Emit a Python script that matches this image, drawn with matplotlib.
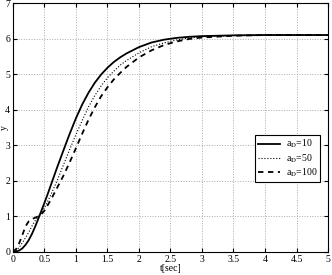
import matplotlib
matplotlib.use("Agg")
import matplotlib.pyplot as plt

plt.rcParams['font.family'] = ['Liberation Serif', 'DejaVu Serif']
plt.rcParams['mathtext.fontset'] = 'stix'

# a_D = 10 (solid)
t_10 = [0, 0.05, 0.1, 0.15, 0.2, 0.25, 0.3, 0.35, 0.4, 0.45, 0.5, 0.55, 0.6, 0.65, 0.7,
        0.8, 0.9, 1.0, 1.1, 1.2, 1.3, 1.4, 1.5, 1.6, 1.7, 1.8, 2.0, 2.2, 2.4, 2.6, 2.8,
        3.0, 3.5, 4.0, 4.5, 5.0]
y_10 = [0, 0.01, 0.04, 0.1, 0.2, 0.33, 0.5, 0.7, 0.92, 1.15, 1.38, 1.62, 1.87, 2.12, 2.37,
        2.85, 3.32, 3.76, 4.15, 4.48, 4.76, 4.99, 5.18, 5.34, 5.47, 5.58, 5.76, 5.89, 5.97, 6.02,
        6.05, 6.07, 6.09, 6.1, 6.1, 6.1]

# a_D = 50 (dotted)
t_50 = [0, 0.05, 0.1, 0.15, 0.2, 0.25, 0.3, 0.35, 0.4, 0.45, 0.5, 0.6, 0.7, 0.8, 0.9,
        1.0, 1.1, 1.2, 1.3, 1.4, 1.5, 1.6, 1.7, 1.8, 2.0, 2.2, 2.4, 2.6, 2.8, 3.0,
        3.5, 4.0, 4.5, 5.0]
y_50 = [0, 0.04, 0.13, 0.26, 0.4, 0.55, 0.72, 0.87, 0.98, 1.1, 1.24, 1.6, 2.0, 2.44, 2.88,
        3.3, 3.7, 4.08, 4.4, 4.67, 4.9, 5.08, 5.25, 5.38, 5.6, 5.77, 5.88, 5.96, 6.02, 6.05,
        6.09, 6.1, 6.1, 6.1]

# a_D = 100 (dashed)
t_100 = [0, 0.05, 0.1, 0.15, 0.2, 0.25, 0.3, 0.35, 0.4, 0.45, 0.5, 0.6, 0.7, 0.8, 0.9,
         1.0, 1.1, 1.2, 1.3, 1.4, 1.5, 1.6, 1.7, 1.8, 2.0, 2.2, 2.4, 2.6, 2.8, 3.0,
         3.5, 4.0, 4.5, 5.0]
y_100 = [0, 0.08, 0.25, 0.48, 0.72, 0.86, 0.92, 0.96, 1.0, 1.06, 1.16, 1.46, 1.8, 2.14, 2.52,
         2.92, 3.33, 3.72, 4.07, 4.38, 4.63, 4.85, 5.03, 5.2, 5.47, 5.67, 5.82, 5.92, 5.99, 6.03,
         6.08, 6.1, 6.1, 6.1]

labels = [r'a$_\mathrm{D}$=10', r'a$_\mathrm{D}$=50', r'a$_\mathrm{D}$=100']

fig = plt.figure(figsize=(3.32, 2.75), dpi=100)
ax = fig.add_axes([0.039, 0.084, 0.949, 0.905])

ax.plot(t_10, y_10, color='black', linestyle='-', linewidth=1.3, label=labels[0])
ax.plot(t_50, y_50, color='black', linestyle=':', linewidth=0.8, label=labels[1])
ax.plot(t_100, y_100, color='black', linestyle='--', linewidth=1.3, dashes=(3, 2.5), label=labels[2])

ax.set_xlim(0, 5)
ax.set_ylim(0, 7)
ax.set_xticks([0, 0.5, 1, 1.5, 2, 2.5, 3, 3.5, 4, 4.5, 5])
ax.set_xticklabels(['0', '0.5', '1', '1.5', '2', '2.5', '3', '3.5', '4', '4.5', '5'])
ax.set_yticks(range(8))
ax.grid(True, color='#aaaaaa', linestyle=':', linewidth=0.7)
ax.tick_params(direction='in', top=True, right=True, labelsize=7, length=3, pad=2)
for s in ax.spines.values():
    s.set_linewidth(0.8)

ax.set_xlabel('t[sec]', fontsize=7, labelpad=0)
ax.set_ylabel('y', fontsize=7, va='center')
ax.yaxis.set_label_coords(-0.026, 0.5)

leg = ax.legend(loc='lower right', bbox_to_anchor=(0.975, 0.28), fontsize=7, frameon=True,
                fancybox=False, edgecolor='black', framealpha=1, handlelength=2.2,
                borderpad=0.3, labelspacing=0.2, handletextpad=0.6, borderaxespad=0)
leg.get_frame().set_linewidth(0.8)

fig.savefig('out.png', dpi=100)
